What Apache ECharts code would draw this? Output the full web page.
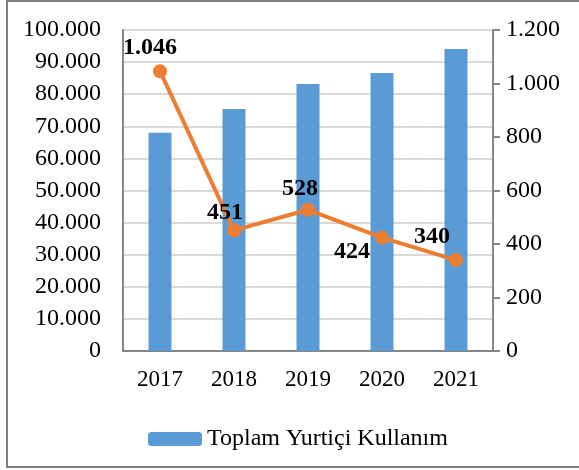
<!DOCTYPE html>
<html>
<head>
<meta charset="utf-8">
<script src="https://cdn.jsdelivr.net/npm/echarts@6/dist/echarts.min.js"></script>
<style>
  html, body { margin: 0; padding: 0; background: #fff; }
</style>
</head>
<body>
<div id="main" style="width: 579px; height: 470px"></div>
<script>
// data
const years = ["2017", "2018", "2019", "2020", "2021"];
const toplam = [68000, 75400, 83200, 86600, 94100];
const ikinci = [1046, 451, 528, 424, 340];
const legendName = "Toplam Yurtiçi Kullanım";

// label placement for each point of the line
const labelPos = [
  { position: "top", offset: [-10, 1] },
  { position: "top", offset: [-9, 6] },
  { position: "top", offset: [-8, 3] },
  { position: "left", offset: [0, 14] },
  { position: "left", offset: [6, -23] },
];

// 100000 -> "100.000"
function dotted(v) {
  return String(Math.round(v)).replace(/\B(?=(\d{3})+(?!\d))/g, ".");
}

const font = "'Liberation Serif', 'Times New Roman', serif";
const axisGray = "#868686";

const option = {
  animation: false,
  textStyle: { fontFamily: font },
  grid: { left: 123, right: 86, top: 30, bottom: 119 },
  graphic: [
    {
      type: "rect",
      shape: { x: 7, y: 1, width: 620, height: 466 },
      style: { fill: "none", stroke: "#808080", lineWidth: 2 },
      silent: true,
    },
  ],
  legend: {
    data: [legendName],
    left: 143,
    top: 422,
    itemWidth: 54,
    itemHeight: 14,
    itemGap: 4,
    textStyle: { fontFamily: font, fontSize: 24, color: "#000" },
  },
  xAxis: {
    type: "category",
    data: years,
    axisLine: { lineStyle: { color: axisGray, width: 2 } },
    axisTick: { show: false },
    axisLabel: { fontFamily: font, fontSize: 23, color: "#000", margin: 17 },
  },
  yAxis: [
    {
      type: "value",
      min: 0,
      max: 100000,
      interval: 10000,
      axisLine: { show: true, lineStyle: { color: axisGray, width: 2 } },
      axisTick: { show: false },
      splitLine: { lineStyle: { color: "#d9d9d9", width: 2 } },
      axisLabel: {
        fontFamily: font,
        fontSize: 24,
        color: "#000",
        margin: 22,
        formatter: dotted,
      },
    },
    {
      type: "value",
      min: 0,
      max: 1200,
      interval: 200,
      position: "right",
      axisLine: { show: true, lineStyle: { color: axisGray, width: 2 } },
      axisTick: { show: true, length: 7, lineStyle: { color: axisGray, width: 2 } },
      splitLine: { show: false },
      axisLabel: {
        fontFamily: font,
        fontSize: 24,
        color: "#000",
        margin: 13,
        formatter: dotted,
      },
    },
  ],
  series: [
    {
      name: legendName,
      type: "bar",
      data: toplam,
      barWidth: 23,
      itemStyle: { color: "#5B9BD5" },
    },
    {
      name: "line",
      type: "line",
      yAxisIndex: 1,
      data: ikinci.map((v, i) => ({
        value: v,
        label: labelPos[i],
      })),
      symbol: "circle",
      symbolSize: 14,
      z: 5,
      lineStyle: { color: "#ED7D31", width: 4 },
      itemStyle: { color: "#ED7D31" },
      label: {
        show: true,
        fontFamily: font,
        fontSize: 24,
        fontWeight: "bold",
        color: "#000",
        formatter: (p) => dotted(p.value),
      },
    },
  ],
};

const myChart = echarts.init(document.getElementById("main"));
myChart.setOption(option);
</script>
</body>
</html>
